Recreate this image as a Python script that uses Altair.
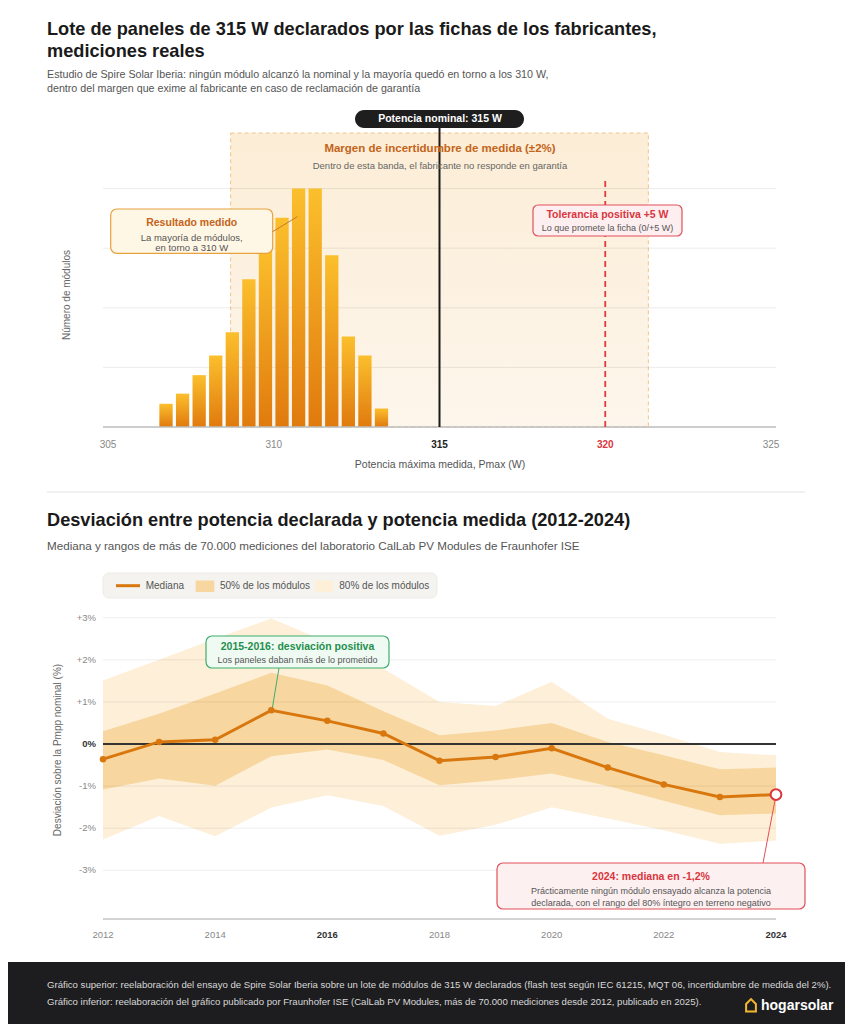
import altair as alt
import pandas as pd

FONT = "Liberation Sans"

# ---------------- data: top chart (Spire Solar Iberia batch) ----------------
pmax_bins = [306.75, 307.25, 307.75, 308.25, 308.75, 309.25, 309.75,
             310.25, 310.75, 311.25, 311.75, 312.25, 312.75, 313.25]
module_counts = [3.9, 5.6, 8.7, 12.0, 15.9, 24.8, 30.0,
                 35.1, 40.0, 40.0, 28.8, 15.2, 12.0, 3.1]
top_ticks = [305, 310, 315, 320, 325]
top_tick_labels = ["305", "310", "315", "320", "325"]
count_grid = [10, 20, 30, 40]
nominal_w = [315]
tolerance_w = [320]
uncert_lo = [308.7]
uncert_hi = [321.3]

# ---------------- data: bottom chart (Fraunhofer ISE CalLab) ----------------
years = [2012, 2013, 2014, 2015, 2016, 2017, 2018, 2019, 2020, 2021, 2022, 2023, 2024]
median = [-0.36, 0.05, 0.10, 0.80, 0.55, 0.25, -0.40, -0.31, -0.10, -0.56, -0.96, -1.26, -1.20]
p25 = [-1.08, -0.82, -0.99, -0.29, -0.13, -0.38, -0.98, -0.86, -0.70, -1.00, -1.35, -1.69, -1.65]
p75 = [0.30, 0.72, 1.20, 1.69, 1.39, 0.78, 0.21, 0.32, 0.50, 0.05, -0.27, -0.60, -0.56]
p10 = [-2.27, -1.71, -2.19, -1.51, -1.22, -1.47, -2.18, -1.92, -1.50, -1.77, -2.05, -2.37, -2.29]
p90 = [1.51, 2.00, 2.50, 2.98, 2.42, 1.79, 1.00, 0.90, 1.48, 0.60, 0.22, -0.19, -0.27]
dev_ticks = [-3, -2, -1, 0, 1, 2, 3]
dev_tick_labels = ["-3%", "-2%", "-1%", "0%", "+1%", "+2%", "+3%"]
year_ticks = [2012, 2014, 2016, 2018, 2020, 2022, 2024]
year_tick_labels = ["2012", "2014", "2016", "2018", "2020", "2022", "2024"]

# ---------------- colours ----------------
ORANGE = "#d9770f"
BAND50 = "#f8d69f"
BAND80 = "#fdefd8"
RED = "#d9363e"
GREEN = "#1f8f4e"

one = pd.DataFrame({"k": [0]})


def stext(txt, x, y, size, color, weight="normal", align="left", angle=0):
    kw = dict(text=txt, fontSize=size, color=color, fontWeight=weight,
              align=align, baseline="middle", font=FONT)
    if angle:
        kw["angle"] = angle
    return alt.Chart(one).mark_text(**kw).encode(x=alt.value(x), y=alt.value(y))


def srect(x, x2, y, y2, fill, stroke=None, r=0, sw=1.0):
    kw = dict(fill=fill, cornerRadius=r)
    if stroke:
        kw.update(stroke=stroke, strokeWidth=sw)
    return alt.Chart(one).mark_rect(**kw).encode(
        x=alt.value(x), x2=alt.value(x2), y=alt.value(y), y2=alt.value(y2))


def sline(x, y, x2, y2, color, sw=1.0):
    return alt.Chart(one).mark_rule(color=color, strokeWidth=sw).encode(
        x=alt.value(x), x2=alt.value(x2), y=alt.value(y), y2=alt.value(y2))


# ======================= TOP PANEL =======================
xs_top = alt.Scale(domain=[305, 325], range=[95, 768], nice=False, zero=False)
ys_top = alt.Scale(domain=[0, 50], range=[419, 121], nice=False, zero=False)

band_df = pd.DataFrame({"lo": uncert_lo, "hi": uncert_hi})
band_fill = alt.LinearGradient(
    gradient="linear", x1=0, y1=0, x2=0, y2=1,
    stops=[alt.GradientStop(offset=0, color="#fcedd6"),
           alt.GradientStop(offset=1, color="#fdf6ec")])
band = alt.Chart(band_df).mark_rect(
    fill=band_fill, stroke="#f0c68c", strokeDash=[4, 3], strokeWidth=1
).encode(
    x=alt.X("lo:Q", scale=xs_top, axis=None), x2="hi:Q",
    y=alt.value(125), y2=alt.value(419))

grid_top = alt.Chart(pd.DataFrame({"g": count_grid})).mark_rule(
    color="#000", opacity=0.08, strokeWidth=1
).encode(y=alt.Y("g:Q", scale=ys_top, axis=None), x=alt.value(95), x2=alt.value(768))

bar_fill = alt.LinearGradient(
    gradient="linear", x1=0, y1=0, x2=0, y2=1,
    stops=[alt.GradientStop(offset=0, color="#fbbf2c"),
           alt.GradientStop(offset=1, color="#e07a0e")])
bars = alt.Chart(pd.DataFrame({"pmax": pmax_bins, "n": module_counts})).mark_bar(
    size=13.3, fill=bar_fill
).encode(x=alt.X("pmax:Q", scale=xs_top, axis=None),
         y=alt.Y("n:Q", scale=ys_top, axis=None))

baseline_top = alt.Chart(pd.DataFrame({"z": [0]})).mark_rule(
    color="#bdbdbd", strokeWidth=1.5
).encode(y=alt.Y("z:Q", scale=ys_top, axis=None), x=alt.value(95), x2=alt.value(768))

nominal_rule = alt.Chart(pd.DataFrame({"w": nominal_w, "z": [0]})).mark_rule(
    color="#1a1a1a", strokeWidth=2
).encode(x=alt.X("w:Q", scale=xs_top, axis=None),
         y=alt.Y("z:Q", scale=ys_top, axis=None), y2=alt.value(120))

tol_rule = alt.Chart(pd.DataFrame({"w": tolerance_w, "z": [0]})).mark_rule(
    color="#e03a3e", strokeWidth=1.8, strokeDash=[6, 4]
).encode(x=alt.X("w:Q", scale=xs_top, axis=None),
         y=alt.Y("z:Q", scale=ys_top, axis=None), y2=alt.value(170))

tick_df_top = pd.DataFrame({"t": top_ticks, "lab": top_tick_labels})
xt_base = alt.Chart(tick_df_top)
xt_plain = xt_base.mark_text(fontSize=10, color="#888", font=FONT, baseline="middle").encode(
    x=alt.X("t:Q", scale=xs_top, axis=None), y=alt.value(437), text="lab:N"
).transform_filter("datum.t != 315 && datum.t != 320")
xt_nom = xt_base.mark_text(fontSize=10, color="#222", fontWeight="bold", font=FONT,
                           baseline="middle").encode(
    x=alt.X("t:Q", scale=xs_top, axis=None), y=alt.value(437), text="lab:N"
).transform_filter("datum.t == 315")
xt_tol = xt_base.mark_text(fontSize=10, color=RED, fontWeight="bold", font=FONT,
                           baseline="middle").encode(
    x=alt.X("t:Q", scale=xs_top, axis=None), y=alt.value(437), text="lab:N"
).transform_filter("datum.t == 320")

top_panel = alt.layer(
    band, grid_top, bars, baseline_top, nominal_rule, tol_rule,
    xt_plain, xt_nom, xt_tol,
    # annotations
    srect(347, 516, 102, 120, "#1e1e1e", r=9),
    stext("Potencia nominal: 315 W", 432, 111, 10.5, "#ffffff", "bold", "center"),
    stext("Margen de incertidumbre de medida (±2%)", 432, 141, 11.5, "#c4641a", "bold", "center"),
    stext("Dentro de esta banda, el fabricante no responde en garantía", 432, 157.5, 9.5, "#666", "normal", "center"),
    srect(525, 674, 197, 228, "#fdeef0", stroke="#e2505a", r=5, sw=1.2),
    stext("Tolerancia positiva +5 W", 599.5, 206.5, 10.5, RED, "bold", "center"),
    stext("Lo que promete la ficha (0/+5 W)", 599.5, 220, 9, "#555", "normal", "center"),
    srect(102.7, 264.7, 201, 245.3, "#fff7e6", stroke="#e8a13f", r=6, sw=1.2),
    stext("Resultado medido", 183.7, 214.7, 10.5, "#c4641a", "bold", "center"),
    stext("La mayoría de módulos,", 183.7, 230.3, 9.5, "#555", "normal", "center"),
    stext("en torno a 310 W", 183.7, 239.8, 9.5, "#555", "normal", "center"),
    sline(264.7, 223.7, 289.3, 208.7, "#c8782a", 1),
    stext("Potencia máxima medida, Pmax (W)", 432, 457, 10.5, "#555", "normal", "center"),
    stext("Número de módulos", 59, 287, 10, "#666", "normal", "center", angle=270),
)

# ======================= BOTTOM PANEL =======================
xs_bot = alt.Scale(domain=[2012, 2024], range=[95, 768], nice=False, zero=False)
ys_bot = alt.Scale(domain=[-3, 3], range=[862.3, 609.7], nice=False, zero=False)

dev_df = pd.DataFrame({"year": years, "median": median, "p25": p25, "p75": p75,
                       "p10": p10, "p90": p90})
XB = alt.X("year:Q", scale=xs_bot, axis=None)

area80 = alt.Chart(dev_df).mark_area(color=BAND80, opacity=1).encode(
    x=XB, y=alt.Y("p10:Q", scale=ys_bot, axis=None), y2="p90:Q")
area50 = alt.Chart(dev_df).mark_area(color=BAND50, opacity=1).encode(
    x=XB, y=alt.Y("p25:Q", scale=ys_bot, axis=None), y2="p75:Q")

grid_bot = alt.Chart(pd.DataFrame({"g": [v for v in dev_ticks if v != 0]})).mark_rule(
    color="#000", opacity=0.07, strokeWidth=1
).encode(y=alt.Y("g:Q", scale=ys_bot, axis=None), x=alt.value(95), x2=alt.value(768))

zero_rule = alt.Chart(pd.DataFrame({"z": [0]})).mark_rule(color="#333", strokeWidth=2).encode(
    y=alt.Y("z:Q", scale=ys_bot, axis=None), x=alt.value(95), x2=alt.value(768))

axis_line_bot = sline(95, 911, 768, 911, "#c4c4c4", 1.5)

med_line = alt.Chart(dev_df).mark_line(color=ORANGE, strokeWidth=3).encode(
    x=XB, y=alt.Y("median:Q", scale=ys_bot, axis=None))
med_pts = alt.Chart(dev_df).mark_circle(color=ORANGE, size=42, opacity=1).encode(
    x=XB, y=alt.Y("median:Q", scale=ys_bot, axis=None)
).transform_filter("datum.year != 2024")
last_pt = alt.Chart(dev_df).mark_point(
    shape="circle", filled=True, fill="#ffffff", stroke=RED, strokeWidth=2,
    size=115, opacity=1
).encode(x=XB, y=alt.Y("median:Q", scale=ys_bot, axis=None)
         ).transform_filter("datum.year == 2024")

ytick_df = pd.DataFrame({"v": dev_ticks, "lab": dev_tick_labels})
yt_plain = alt.Chart(ytick_df).mark_text(fontSize=9.5, color="#888", align="right",
                                          baseline="middle", font=FONT).encode(
    y=alt.Y("v:Q", scale=ys_bot, axis=None), x=alt.value(88), text="lab:N"
).transform_filter("datum.v != 0")
yt_zero = alt.Chart(ytick_df).mark_text(fontSize=9.5, color="#333", fontWeight="bold",
                                         align="right", baseline="middle", font=FONT).encode(
    y=alt.Y("v:Q", scale=ys_bot, axis=None), x=alt.value(88), text="lab:N"
).transform_filter("datum.v == 0")

xtick_df = pd.DataFrame({"yr": year_ticks, "lab": year_tick_labels})
xb_plain = alt.Chart(xtick_df).mark_text(fontSize=9.5, color="#888", baseline="middle",
                                          font=FONT).encode(
    x=alt.X("yr:Q", scale=xs_bot, axis=None), y=alt.value(927), text="lab:N"
).transform_filter("datum.yr != 2016 && datum.yr != 2024")
xb_bold = alt.Chart(xtick_df).mark_text(fontSize=9.5, color="#333", fontWeight="bold",
                                         baseline="middle", font=FONT).encode(
    x=alt.X("yr:Q", scale=xs_bot, axis=None), y=alt.value(927), text="lab:N"
).transform_filter("datum.yr == 2016 || datum.yr == 2024")

bottom_panel = alt.layer(
    area80, area50, grid_bot, zero_rule, axis_line_bot,
    sline(271, 660, 264, 702, "#3fae6e", 1),
    sline(755, 855, 768, 787, "#e2505a", 1),
    med_line, med_pts, last_pt,
    yt_plain, yt_zero, xb_plain, xb_bold,
    srect(198, 381, 628, 660, "#effaf3", stroke="#3fae6e", r=6, sw=1.2),
    stext("2015-2016: desviación positiva", 289.5, 638.5, 10.5, GREEN, "bold", "center"),
    stext("Los paneles daban más de lo prometido", 289.5, 651.5, 9, "#555", "normal", "center"),
    srect(489, 797, 855, 901, "#fdf0f1", stroke="#e2505a", r=6, sw=1.2),
    stext("2024: mediana en -1,2%", 643, 868.5, 10.5, RED, "bold", "center"),
    stext("Prácticamente ningún módulo ensayado alcanza la potencia", 643, 883, 9, "#555", "normal", "center"),
    stext("declarada, con el rango del 80% íntegro en terreno negativo", 643, 894.5, 9, "#555", "normal", "center"),
    stext("Desviación sobre la Pmpp nominal (%)", 50, 742, 10, "#666", "normal", "center", angle=270),
)

# ======================= STATIC PAGE ELEMENTS =======================
house = ("M -0.75 1 L -0.75 -0.15 L 0 -0.9 L 0.75 -0.15 L 0.75 1 Z")
logo_icon = alt.Chart(one).mark_point(
    shape=house, filled=False, stroke="#f5b731", strokeWidth=2, size=170, opacity=1
).encode(x=alt.value(743), y=alt.value(997))

static = alt.layer(
    stext("Lote de paneles de 315 W declarados por las fichas de los fabricantes,", 39, 22, 18.2, "#1a1a1a", "bold"),
    stext("mediciones reales", 39, 44, 18.2, "#1a1a1a", "bold"),
    stext("Estudio de Spire Solar Iberia: ningún módulo alcanzó la nominal y la mayoría quedó en torno a los 310 W,", 39, 67, 10.7, "#555"),
    stext("dentro del margen que exime al fabricante en caso de reclamación de garantía", 39, 81, 10.7, "#555"),
    sline(39, 484, 797, 484, "#e3e3e3", 1),
    stext("Desviación entre potencia declarada y potencia medida (2012-2024)", 39, 513, 18.2, "#1a1a1a", "bold"),
    stext("Mediana y rangos de más de 70.000 mediciones del laboratorio CalLab PV Modules de Fraunhofer ISE", 39, 539, 11.65, "#555"),
    # legend
    srect(95, 429, 565, 590, "#f4f3f0", stroke="#ecebe7", r=6, sw=1),
    sline(108, 577.7, 132, 577.7, ORANGE, 3),
    stext("Mediana", 137.7, 577.7, 10, "#555"),
    srect(187.7, 206.3, 572.5, 584, BAND50),
    stext("50% de los módulos", 212, 577.7, 10, "#555"),
    srect(307, 325.3, 572.5, 584, BAND80),
    stext("80% de los módulos", 331.3, 577.7, 10, "#555"),
    # footer
    srect(0, 837, 954, 1016, "#1d1d1f"),
    stext("Gráfico superior: reelaboración del ensayo de Spire Solar Iberia sobre un lote de módulos de 315 W declarados (flash test según IEC 61215, MQT 06, incertidumbre de medida del 2%).", 39, 977, 9.6, "#d8d8d8"),
    stext("Gráfico inferior: reelaboración del gráfico publicado por Fraunhofer ISE (CalLab PV Modules, más de 70.000 mediciones desde 2012, publicado en 2025).", 39, 994, 9.6, "#d8d8d8"),
    logo_icon,
    stext("hogarsolar", 753, 998, 14, "#ffffff", "bold"),
)

chart = alt.layer(top_panel, bottom_panel, static).resolve_scale(
    x="independent", y="independent"
).properties(
    width=837, height=1016, padding=0,
    autosize=alt.AutoSizeParams(type="none"),
    background="#ffffff",
).configure_view(strokeWidth=0)

chart.save("out.html", embed_options={"renderer": "svg", "actions": False})
